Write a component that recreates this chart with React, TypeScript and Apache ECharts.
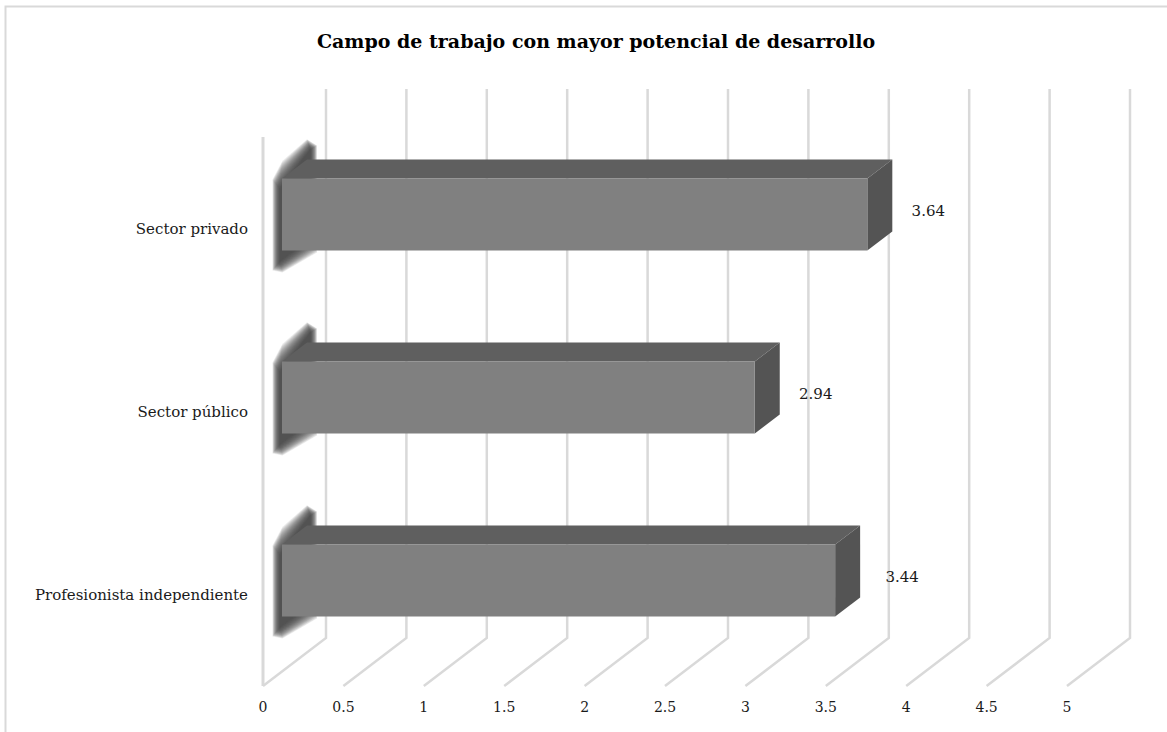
import React, { useEffect, useRef } from "react";
import * as echarts from "echarts";

const titleText = "Campo de trabajo con mayor potencial de desarrollo";
const categories = ["Profesionista independiente", "Sector público", "Sector privado"];
const values = [3.44, 2.94, 3.64];
const wallTicks = [0, 0.5, 1, 1.5, 2, 2.5, 3, 3.5, 4, 4.5, 5];
const FONT = "'DejaVu Serif', serif";

const WALL_DX = 63;
const WALL_DY = 48;
const BAR_FRONT_DX = 19;
const BAR_FRONT_DY = 14;
const BAR_DEPTH_DX = 25;
const BAR_DEPTH_DY = 19;
const BAR_HEIGHT = 72;
const WALL_COLOR = "#d9d9d9";
const SHADOW_LAYERS = 24;

const renderWall = (params: any, api: any) => {
  const v = api.value(0);
  const x = api.coord([v, 0])[0];
  const cs = params.coordSys;
  const bottom = cs.y + cs.height;
  const top = cs.y;
  const children: any[] = [
    {
      type: "polyline",
      shape: {
        points: [
          [x, bottom],
          [x + WALL_DX, bottom - WALL_DY],
          [x + WALL_DX, top - WALL_DY],
        ],
      },
      style: { stroke: WALL_COLOR, lineWidth: 2.5, fill: "none" },
    },
  ];
  if (v === 0) {
    children.push({
      type: "line",
      shape: { x1: x, y1: top, x2: x, y2: bottom },
      style: { stroke: WALL_COLOR, lineWidth: 3 },
    });
  }
  return { type: "group", children };
};

const renderShadow = (_p: any, api: any) => {
  const p = api.coord([0, api.value(1)]);
  const left = p[0] + 9.5;
  const right = p[0] + 54;
  const top = p[1] - 14 - BAR_HEIGHT / 2;
  const bot = top + BAR_HEIGHT;
  const children: any[] = [];
  for (let k = 0; k < SHADOW_LAYERS; k++) {
    const c = Math.max(0, 10 - k * 0.45);
    const L = left + k * 0.33;
    const R = right - k * 0.3;
    const T = top - 9 + k * 0.85;
    const TR = top - 48 + k * 0.85;
    const BL = bot + 30 - k * 0.85;
    const BR = bot + 2 - k * 0.6;
    children.push({
      type: "polygon",
      shape: {
        points: [
          [L, T + c],
          [L + c, T - c * 0.87],
          [R - c, TR + c * 0.87],
          [R, TR + c * 1.5],
          [R, BR],
          [L + c, BL - c * 0.8],
          [L, BL - c],
        ],
      },
      style: { fill: "rgba(72,72,72,0.09)" },
    });
  }
  return { type: "group", children };
};

const renderBar = (params: any, api: any) => {
  const v = api.value(0);
  const i = api.value(1);
  const start = api.coord([0, i]);
  const end = api.coord([v, i]);
  const x0 = start[0] + BAR_FRONT_DX;
  const x1 = end[0] + BAR_FRONT_DX;
  const y0 = start[1] - BAR_FRONT_DY - BAR_HEIGHT / 2;
  const y1 = y0 + BAR_HEIGHT;
  const dx = BAR_DEPTH_DX;
  const dy = BAR_DEPTH_DY;
  const labelNudge = params.dataIndex === 0 ? 6 : 0;
  return {
    type: "group",
    children: [
      {
        type: "polygon",
        shape: { points: [[x0, y0], [x0 + dx, y0 - dy], [x1 + dx, y0 - dy], [x1, y0]] },
        style: { fill: "#5f5f5f" },
      },
      {
        type: "polygon",
        shape: { points: [[x1, y0], [x1 + dx, y0 - dy], [x1 + dx, y1 - dy], [x1, y1]] },
        style: { fill: "#545454" },
      },
      {
        type: "rect",
        shape: { x: x0, y: y0, width: x1 - x0, height: BAR_HEIGHT },
        style: { fill: "#808080" },
      },
      {
        type: "text",
        style: {
          text: String(v),
          x: x1 + 61 + labelNudge,
          y: y0 + BAR_HEIGHT / 2 - 4,
          align: "center",
          verticalAlign: "middle",
          fill: "#1a1a1a",
          font: `15px ${FONT}`,
        },
      },
    ],
  };
};

export default function App() {
  const ref = useRef<HTMLDivElement>(null);
  useEffect(() => {
    const chart = echarts.init(ref.current!, null, { renderer: "svg" });
    chart.setOption({
      animation: false,
      backgroundColor: "#ffffff",
      title: {
        text: titleText,
        left: 591,
        top: 26,
        textAlign: "center",
        textStyle: { fontFamily: FONT, fontWeight: "bold", fontSize: 19, color: "#000" },
      },
      grid: { left: 263, width: 804, top: 137, height: 549 },
      xAxis: {
        type: "value",
        min: 0,
        max: 5,
        interval: 0.5,
        axisLine: { show: false },
        axisTick: { show: false },
        splitLine: { show: false },
        axisLabel: { margin: 14, color: "#1a1a1a", fontFamily: FONT, fontSize: 14 },
      },
      yAxis: {
        type: "category",
        data: categories,
        axisLine: { show: false },
        axisTick: { show: false },
        splitLine: { show: false },
        axisLabel: { margin: 15, color: "#1a1a1a", fontFamily: FONT, fontSize: 15 },
      },
      graphic: [
        {
          type: "rect",
          shape: { x: 5.5, y: 6.5, width: 1300, height: 900 },
          style: { fill: "none", stroke: WALL_COLOR, lineWidth: 2 },
          silent: true,
        },
      ],
      series: [
        {
          type: "custom",
          renderItem: renderWall,
          data: wallTicks.map((t) => [t, 0]),
          encode: { x: 0, y: 1 },
          silent: true,
          z: 1,
        },
        {
          type: "custom",
          renderItem: renderShadow,
          data: values.map((_, i) => [0, i]),
          encode: { x: 0, y: 1 },
          silent: true,
          z: 2,
        },
        {
          type: "custom",
          renderItem: renderBar,
          data: values.map((v, i) => [v, i]),
          encode: { x: 0, y: 1 },
          silent: true,
          z: 3,
        },
      ],
    });
    return () => chart.dispose();
  }, []);
  return (
    <div
      ref={ref}
      style={{ position: "absolute", left: 0, top: 0, width: 1167, height: 732, background: "#fff" }}
    />
  );
}
